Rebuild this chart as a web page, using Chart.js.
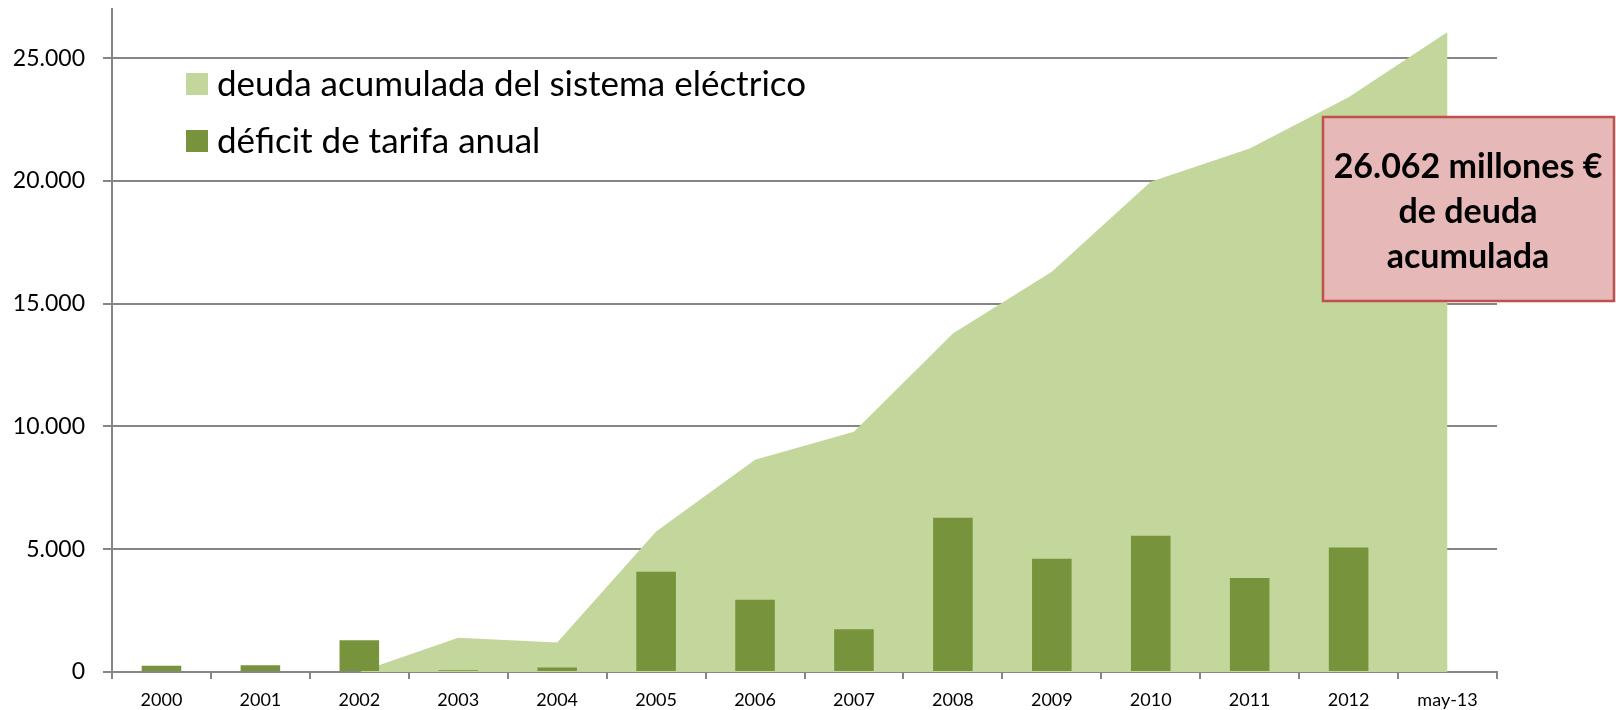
<!DOCTYPE html>
<html>
<head>
<meta charset="utf-8">
<script src="https://cdn.jsdelivr.net/npm/chart.js@4.4.0/dist/chart.umd.min.js"></script>
<style>
  html, body { margin: 0; padding: 0; background: #fff; }
  #wrap { width: 1616px; height: 710px; }
</style>
</head>
<body>
<div id="wrap"><canvas id="deudaChart" width="1616" height="710"></canvas></div>
<script>
// datos (millones de €)
var categorias = ['2000','2001','2002','2003','2004','2005','2006','2007','2008','2009','2010','2011','2012','may-13'];
var deudaAcumulada = [0, 0, 0, 1390, 1200, 5720, 8640, 9780, 13790, 16300, 19960, 21320, 23410, 26062];
var deficitAnual = [250, 270, 1290, 70, 180, 4080, 2940, 1740, 6280, 4610, 5550, 3830, 5070, null];
var ticksY = [0, 5000, 10000, 15000, 20000, 25000];
var textoCaja = ['26.062 millones €', 'de deuda', 'acumulada'];

var gris = '#868686';

function miles(v) {
  return String(v).replace(/\B(?=(\d{3})+(?!\d))/g, '.');
}

// leyenda dentro del área del gráfico, arriba a la izquierda
var leyenda = {
  id: 'leyenda',
  afterDraw: function (chart) {
    var ctx = chart.ctx;
    ctx.save();
    ctx.font = '35px Lato';
    ctx.textBaseline = 'alphabetic';
    chart.data.datasets.forEach(function (ds, i) {
      var y = 73 + i * 57;
      ctx.fillStyle = ds.backgroundColor;
      ctx.fillRect(186, y, 22, 22);
      ctx.fillStyle = '#000';
      ctx.fillText(ds.label, 217, y + 23);
    });
    ctx.restore();
  }
};

// recuadro con el total de deuda
var caja = {
  id: 'caja',
  afterDraw: function (chart) {
    var ctx = chart.ctx;
    ctx.save();
    ctx.fillStyle = '#e6b9b8';
    ctx.strokeStyle = '#c0504d';
    ctx.lineWidth = 2.5;
    ctx.fillRect(1323, 117, 291, 184);
    ctx.strokeRect(1323, 117, 291, 184);
    ctx.fillStyle = '#000';
    ctx.font = 'bold 34px Lato';
    ctx.textAlign = 'center';
    ctx.textBaseline = 'alphabetic';
    textoCaja.forEach(function (t, i) {
      ctx.fillText(t, 1468, 178 + i * 45);
    });
    ctx.restore();
  }
};

document.addEventListener('DOMContentLoaded', function () {
  var el = document.getElementById('deudaChart');
  if (!el || !window.Chart) return;

  new Chart(el, {
    type: 'bar',
    data: {
      labels: categorias,
      datasets: [
        {
          type: 'line',
          label: 'deuda acumulada del sistema eléctrico',
          data: deudaAcumulada,
          fill: 'origin',
          backgroundColor: '#c3d69b',
          borderColor: 'rgba(0,0,0,0)',
          borderWidth: 0,
          pointRadius: 0,
          tension: 0,
          order: 2
        },
        {
          label: 'déficit de tarifa anual',
          data: deficitAnual,
          backgroundColor: '#77933c',
          categoryPercentage: 1,
          barPercentage: 0.4,
          order: 1
        }
      ]
    },
    options: {
      responsive: false,
      animation: false,
      layout: { padding: { top: 9, right: 119, left: 0, bottom: 0 } },
      plugins: { legend: { display: false }, tooltip: { enabled: false } },
      scales: {
        x: {
          offset: true,
          grid: { offset: true, drawOnChartArea: false, drawTicks: true, tickLength: 7, color: gris, lineWidth: 2 },
          border: { color: gris, width: 2 },
          ticks: { font: { family: 'Lato', size: 18 }, color: '#000', padding: 10, maxRotation: 0, autoSkip: false },
          afterFit: function (s) { s.height = 38; s.paddingLeft = 0; s.paddingRight = 0; }
        },
        y: {
          min: 0,
          max: 27000,
          afterBuildTicks: function (s) {
            s.ticks = ticksY.map(function (v) { return { value: v }; });
          },
          ticks: {
            font: { family: 'Lato', size: 23 },
            color: '#000',
            padding: 18,
            callback: function (v) { return miles(v); }
          },
          grid: { color: gris, lineWidth: 2, tickLength: 9 },
          border: { color: gris, width: 2 },
          afterFit: function (s) { s.width = 112; s.paddingTop = 0; s.paddingBottom = 0; }
        }
      }
    },
    plugins: [leyenda, caja]
  });
});
</script>
</body>
</html>
